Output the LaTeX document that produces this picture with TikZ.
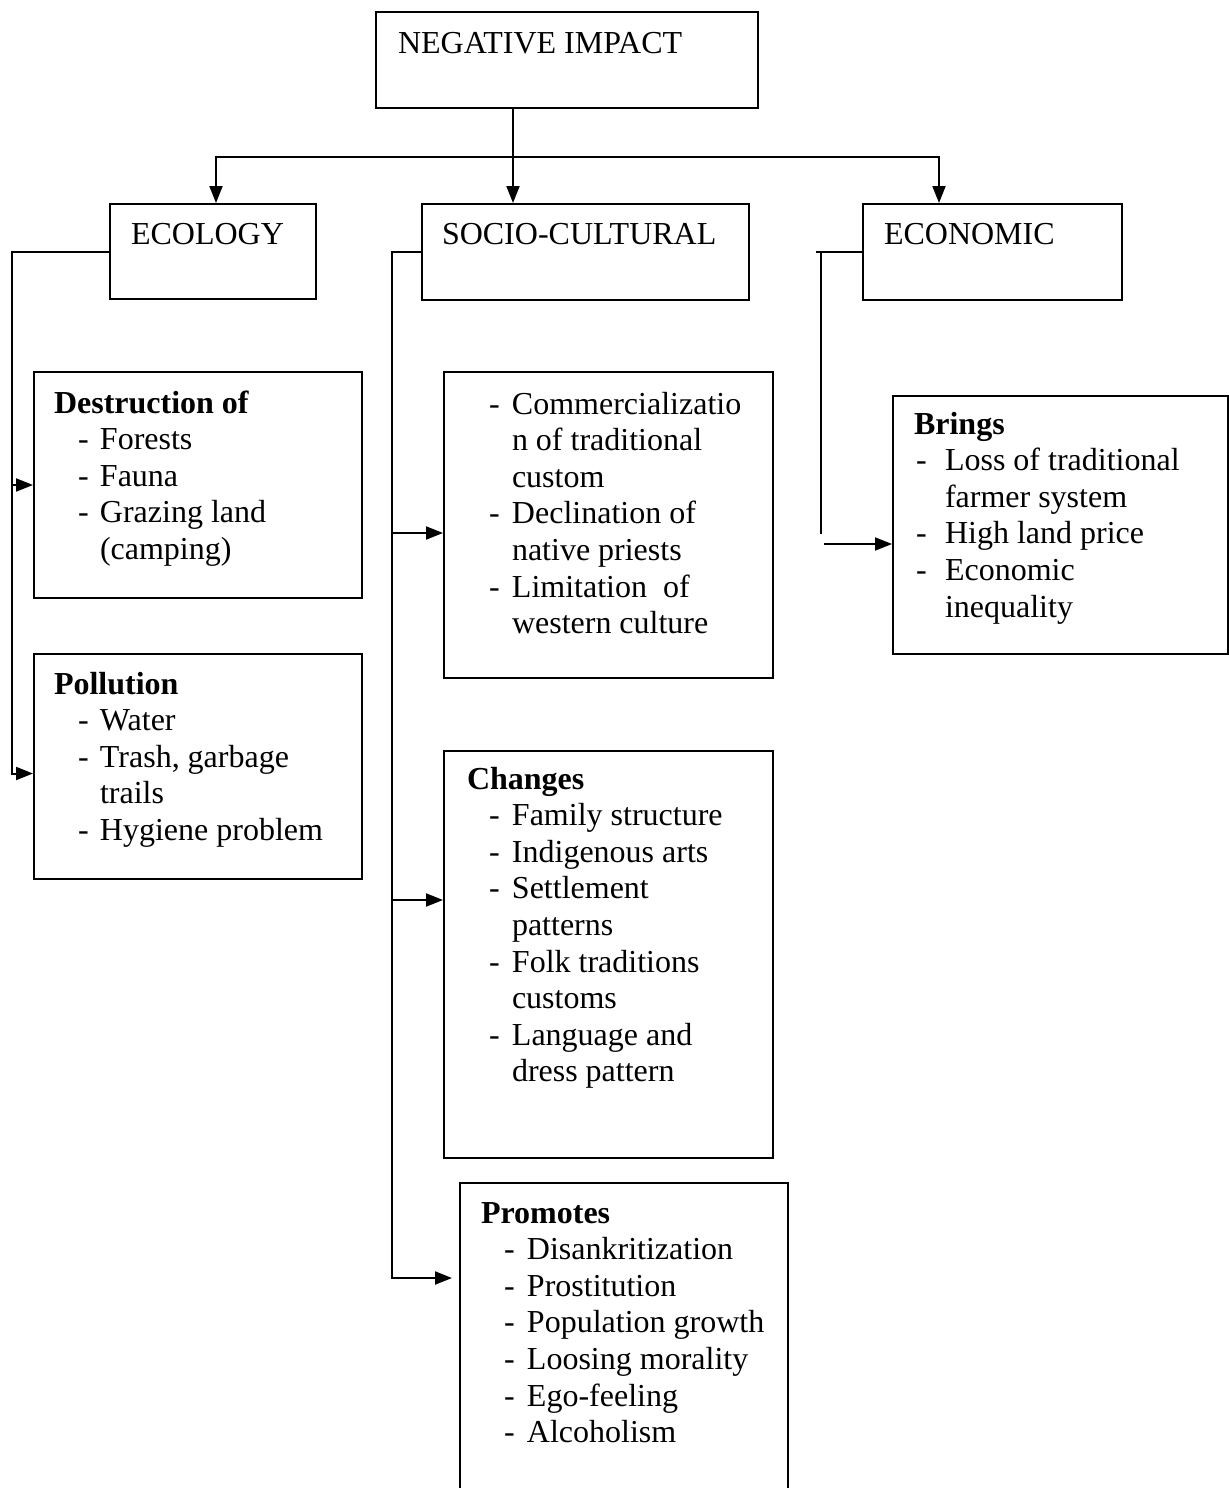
\documentclass[tikz,border=0pt]{standalone}
\usepackage{fontspec}
\setmainfont{Liberation Serif}
\usepackage{tikz}
\usetikzlibrary{arrows.meta,positioning,calc}

\newlength{\dashpad}
\newlength{\textpad}
\newcommand{\boxtext}[4]{\begin{minipage}[t][#2][t]{#1}\rule{0pt}{#3}#4\end{minipage}}
\newcommand{\heading}[2]{\hspace*{#1}\textbf{#2}}
\newcommand{\firstitem}[1]{\hangindent=\textpad\hangafter=1\makebox[\textpad][l]{\hspace{\dashpad}-}#1}
\newcommand{\ditem}[1]{\par\firstitem{#1}}

\begin{document}
\begin{tikzpicture}[
    x=0.5pt, y=-0.5pt,
    line width=1pt,
    box/.style={rectangle, draw, anchor=north west, inner sep=0pt, font=\fontsize{16}{18.3}\selectfont},
    pads/.style 2 args={execute at begin node={\setlength{\dashpad}{#1}\setlength{\textpad}{#2}}},
    arrow/.style={->, >={Triangle[length=8.5pt, width=6.5pt]}}
]
    \useasboundingbox (0,0) rectangle (1229,1488);

    \node[box] (neg) at (375,11) {\boxtext{191pt}{48pt}{20.5pt}{\hspace*{11pt}NEGATIVE IMPACT}};
    \node[box] (eco) at (109,203) {\boxtext{103pt}{47.5pt}{20pt}{\hspace*{10.5pt}ECOLOGY}};
    \node[box] (soc) at (421,203) {\boxtext{163.5pt}{48pt}{20pt}{\hspace*{10pt}SOCIO-CULTURAL}};
    \node[box] (ecn) at (862,203) {\boxtext{129.5pt}{48pt}{20pt}{\hspace*{10.5pt}ECONOMIC}};

    \node[box, pads={22pt}{33pt}] (des) at (33,371) {\boxtext{164pt}{113pt}{20.5pt}{\heading{10pt}{Destruction of}\ditem{Forests}\ditem{Fauna}\ditem{Grazing land\\(camping)}}};
    \node[box, pads={22pt}{33pt}] (pol) at (33,653) {\boxtext{164pt}{112.5pt}{20pt}{\heading{10pt}{Pollution}\ditem{Water}\ditem{Trash, garbage\\trails}\ditem{Hygiene problem}}};

    \node[box, pads={22.5pt}{34pt}] (com) at (443,371) {\boxtext{164.5pt}{153pt}{21pt}{\firstitem{Commercializatio\\n of traditional\\custom}\ditem{Declination of\\native priests}\ditem{Limitation\ \ of\\western culture}}};
    \node[box, pads={22.5pt}{34pt}] (chg) at (443,750) {\boxtext{164.5pt}{203.5pt}{19pt}{\heading{11.5pt}{Changes}\ditem{Family structure}\ditem{Indigenous arts}\ditem{Settlement\\patterns}\ditem{Folk traditions\\customs}\ditem{Language and\\dress pattern}}};
    \node[box, pads={22pt}{33.5pt}] (pro) at (459,1182) {\boxtext{164pt}{160pt}{20pt}{\heading{10.5pt}{Promotes}\ditem{Disankritization}\ditem{Prostitution}\ditem{Population growth}\ditem{Loosing morality}\ditem{Ego-feeling}\ditem{Alcoholism}}};

    \node[box, pads={11.5pt}{26pt}] (brg) at (892,395) {\boxtext{167.5pt}{129pt}{19pt}{\heading{10.5pt}{Brings}\ditem{Loss of traditional\\farmer system}\ditem{High land price}\ditem{Economic\\inequality}}};

    \coordinate (split) at ([xshift=69pt,yshift=-24pt]neg.south west);
    \draw[arrow] ([xshift=69pt]neg.south west) -- ([xshift=46pt]soc.north west);
    \draw[arrow] (split) -| ([xshift=53.5pt]eco.north west);
    \draw[arrow] (split) -| ([xshift=38.5pt]ecn.north west);

    \coordinate (ecobus) at ([xshift=-48.5pt]eco.west);
    \draw[arrow] (eco.west) -- (ecobus) |- (des.west);
    \draw[arrow] (ecobus) |- ([yshift=-3.5pt]pol.west);

    \coordinate (socbus) at ([xshift=-14.5pt]soc.west);
    \draw[arrow] (soc.west) -- (socbus) |- ([yshift=-81pt]com.north west);
    \draw[arrow] (socbus) |- ([yshift=-75pt]chg.north west);
    \draw[arrow, shorten >=3.5pt] (socbus) |- ([yshift=-48pt]pro.north west);

    \coordinate (ecnbus) at ([xshift=-20.5pt]ecn.west);
    \coordinate (brgin) at ([yshift=-9.5pt]brg.west);
    \draw ([xshift=-2.5pt]ecnbus) -- (ecn.west);
    \draw (ecnbus) -- ($(ecnbus |- brgin)+(0,-10)$);
    \draw[arrow] ($(ecnbus |- brgin)+(3,0)$) -- (brgin);
\end{tikzpicture}
\end{document}
